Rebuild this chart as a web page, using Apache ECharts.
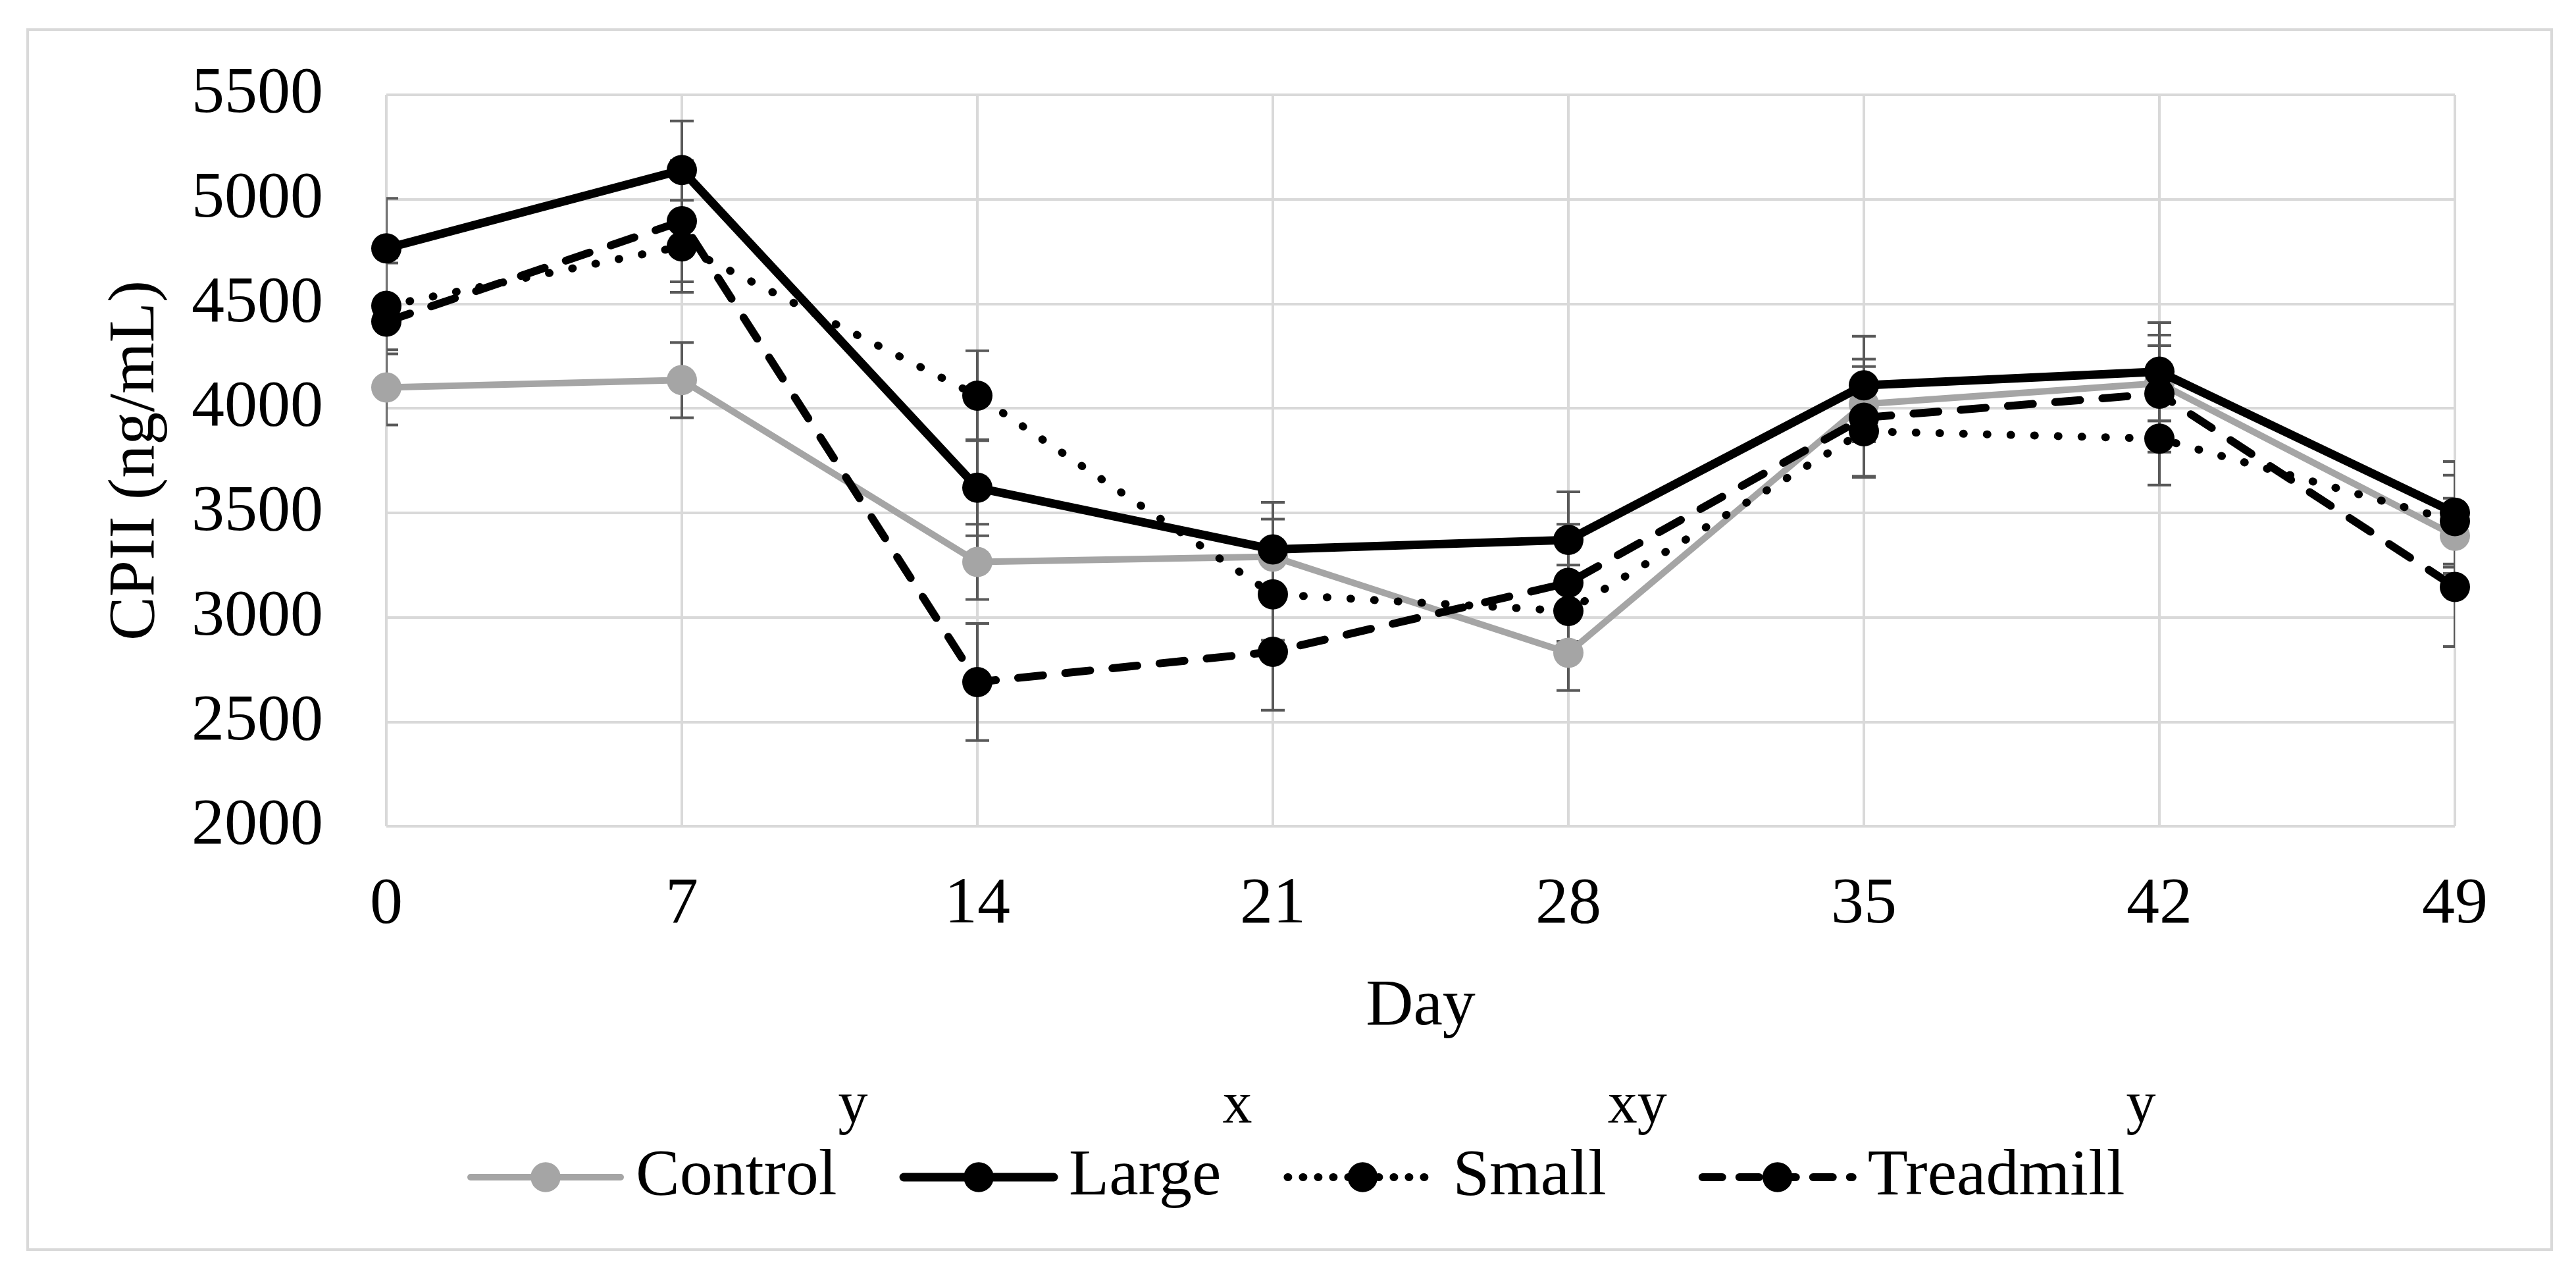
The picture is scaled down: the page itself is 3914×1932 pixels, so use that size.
<!DOCTYPE html>
<html>
<head>
<meta charset="utf-8">
<script src="https://cdn.jsdelivr.net/npm/echarts@6/dist/echarts.min.js"></script>
<style>
html,body{margin:0;padding:0;background:#fff;}
#chart{width:3914px;height:1932px;}
</style>
</head>
<body>
<div id="chart"></div>
<script>
// ---- data ----
const days = [0, 7, 14, 21, 28, 35, 42, 49];
const seriesNames = ['Control', 'Large', 'Small', 'Treadmill'];
const superscripts = ['y', 'x', 'xy', 'y'];
const control   = [4100, 4135, 3265, 3290, 2830, 4020, 4120, 3390];
const large     = [4765, 5140, 3620, 3325, 3370, 4110, 4175, 3500];
const small     = [4490, 4775, 4060, 3110, 3030, 3890, 3855, 3460];
const treadmill = [4415, 4895, 2690, 2835, 3165, 3955, 4070, 3145];
const controlErr   = [180, 180, 180, 180, 180, 180, 180, 180];
const largeErr     = [240, 235, 230, 225, 230, 235, 235, 245];
const smallErr     = [230, 220, 215, 220, 220, 220, 222, 220];
const treadmillErr = [280, 290, 280, 280, 280, 280, 280, 285];
const yTicks = {min: 2000, max: 5500, interval: 500};
const xTicks = {min: 0, max: 49, interval: 7};

const values = [control, large, small, treadmill];
const errors = [controlErr, largeErr, smallErr, treadmillErr];

const FONT = 'Liberation Serif';
const colors = ['#a5a5a5', '#000000', '#000000', '#000000'];
const widths = [10, 13, 12, 12];
const types = ['solid', 'solid', [1, 35], [38, 34]];
const legendTypes = ['solid', 'solid', [1, 22], [30, 26]];

function errRender(params, api) {
  const x = api.value(0), lo = api.value(1), hi = api.value(2);
  const pLo = api.coord([x, lo]), pHi = api.coord([x, hi]);
  const w = 18;
  const style = {stroke: '#595959', lineWidth: 4, fill: null};
  return {type: 'group', children: [
    {type: 'line', shape: {x1: pLo[0], y1: pLo[1], x2: pHi[0], y2: pHi[1]}, style: style},
    {type: 'line', shape: {x1: pLo[0] - w, y1: pLo[1], x2: pLo[0] + w, y2: pLo[1]}, style: style},
    {type: 'line', shape: {x1: pHi[0] - w, y1: pHi[1], x2: pHi[0] + w, y2: pHi[1]}, style: style}
  ]};
}

const series = [];
seriesNames.forEach(function (name, i) {
  series.push({
    name: name + ' error',
    type: 'custom',
    renderItem: errRender,
    clip: true,
    z: 1,
    silent: true,
    encode: {x: 0, y: [1, 2]},
    data: days.map(function (d, k) { return [d, values[i][k] - errors[i][k], values[i][k] + errors[i][k]]; })
  });
});
seriesNames.forEach(function (name, i) {
  series.push({
    name: name,
    type: 'line',
    z: 2 + i,
    data: days.map(function (d, k) { return [d, values[i][k]]; }),
    symbol: 'circle',
    symbolSize: 46,
    showSymbol: true,
    itemStyle: {color: colors[i], borderWidth: 0},
    lineStyle: {color: colors[i], width: widths[i], type: types[i], cap: 'round', join: 'round'},
    emphasis: {disabled: true},
    silent: true
  });
});

const chart = echarts.init(document.getElementById('chart'), null, {renderer: 'canvas'});
chart.setOption({
  animation: false,
  backgroundColor: '#ffffff',
  graphic: [{
    type: 'rect',
    shape: {x: 42, y: 45, width: 3835, height: 1853},
    style: {fill: 'none', stroke: '#d9d9d9', lineWidth: 4},
    silent: true
  }],
  grid: {left: 587, right: 184, top: 144, bottom: 677, containLabel: false},
  xAxis: {
    type: 'value',
    min: xTicks.min, max: xTicks.max, interval: xTicks.interval,
    axisLine: {show: false},
    axisTick: {show: false},
    splitLine: {show: true, lineStyle: {color: '#d9d9d9', width: 4}},
    axisLabel: {fontFamily: FONT, fontSize: 100, color: '#000', margin: 70,
      formatter: function (v) { return String(v); }},
    name: 'Day',
    nameLocation: 'middle',
    nameGap: 225,
    nameTextStyle: {fontFamily: FONT, fontSize: 100, color: '#000'}
  },
  yAxis: {
    type: 'value',
    min: yTicks.min, max: yTicks.max, interval: yTicks.interval,
    axisLine: {show: false},
    axisTick: {show: false},
    splitLine: {show: true, lineStyle: {color: '#d9d9d9', width: 4}},
    axisLabel: {fontFamily: FONT, fontSize: 100, color: '#000', margin: 96,
      formatter: function (v) { return String(v); }},
    name: 'CPII (ng/mL)',
    nameLocation: 'middle',
    nameRotate: 90,
    nameGap: 330,
    nameTextStyle: {fontFamily: FONT, fontSize: 100, color: '#000'}
  },
  legend: {
    data: seriesNames.map(function (name, i) {
      return {
        name: name,
        itemStyle: {color: colors[i]},
        lineStyle: {color: colors[i], width: widths[i], type: legendTypes[i], cap: 'round'}
      };
    }),
    left: 710,
    top: 1636,
    padding: 0,
    itemGap: 48,
    itemWidth: 228,
    itemHeight: 57,
    selectedMode: false,
    formatter: function (name) {
      const i = seriesNames.indexOf(name);
      return '{n|' + name + '}{s|' + superscripts[i] + '}';
    },
    textStyle: {
      fontFamily: FONT,
      color: '#000',
      rich: {
        n: {fontFamily: FONT, fontSize: 100, color: '#000', padding: [0, 0, 0, 18]},
        s: {fontFamily: FONT, fontSize: 90, color: '#000', padding: [0, 0, 214, 2]}
      }
    }
  },
  series: series
});
</script>
</body>
</html>
